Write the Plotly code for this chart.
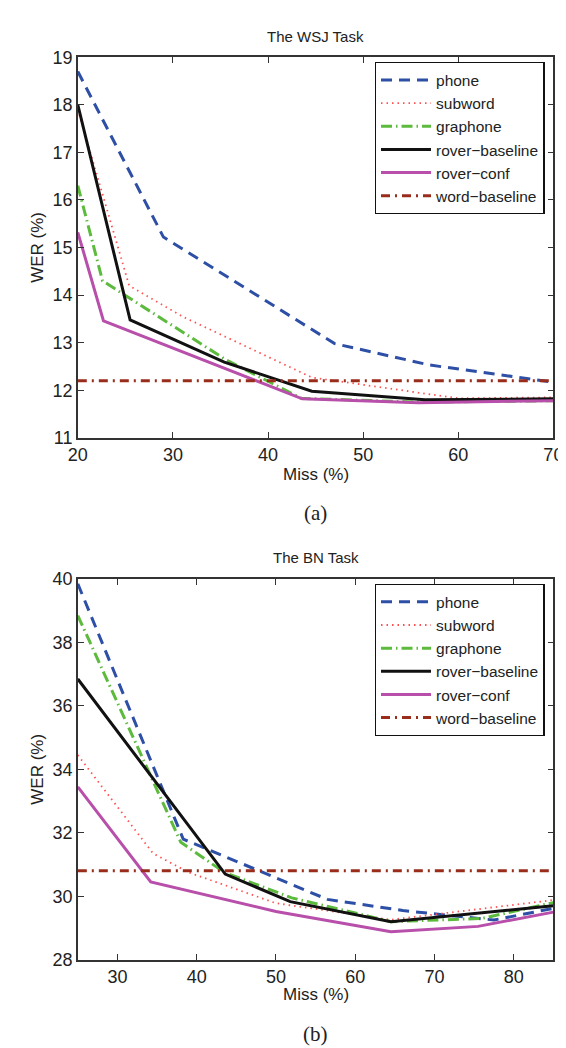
import plotly.graph_objects as go

W, H = 566, 1048
FONT = "Liberation Sans"

# ---------------- data: (a) WSJ task ----------------
wsj_phone_x = [20, 29.0, 47.0, 57.0, 70]
wsj_phone_y = [18.70, 15.22, 12.98, 12.53, 12.17]
wsj_subword_x = [20, 25.4, 31.0, 44.6, 60.0, 70]
wsj_subword_y = [17.90, 14.20, 13.55, 12.27, 11.83, 11.85]
wsj_graphone_x = [20, 22.6, 35.5, 43.5, 56.0, 70]
wsj_graphone_y = [16.30, 14.30, 12.65, 11.83, 11.75, 11.78]
wsj_roverbase_x = [20, 25.5, 35.4, 44.6, 56.5, 70]
wsj_roverbase_y = [18.00, 13.48, 12.59, 11.98, 11.80, 11.82]
wsj_roverconf_x = [20, 22.7, 43.6, 55.8, 70]
wsj_roverconf_y = [15.32, 13.46, 11.82, 11.74, 11.78]
wsj_word_x = [20, 70]
wsj_word_y = [12.20, 12.20]

# ---------------- data: (b) BN task ----------------
bn_phone_x = [25, 38.3, 56.5, 66.0, 77.5, 85]
bn_phone_y = [39.85, 31.80, 29.90, 29.55, 29.25, 29.62]
bn_subword_x = [25, 34.5, 39.0, 50.0, 64.5, 85]
bn_subword_y = [34.45, 31.35, 30.75, 29.78, 29.26, 29.88]
bn_graphone_x = [25, 38.0, 43.5, 52.0, 64.5, 76.0, 85]
bn_graphone_y = [38.85, 31.70, 30.75, 29.95, 29.20, 29.30, 29.80]
bn_roverbase_x = [25, 43.6, 51.8, 64.5, 85]
bn_roverbase_y = [36.85, 30.70, 29.83, 29.20, 29.70]
bn_roverconf_x = [25, 34.2, 50.0, 64.5, 75.5, 85]
bn_roverconf_y = [33.45, 30.45, 29.52, 28.88, 29.05, 29.50]
bn_word_x = [25, 85]
bn_word_y = [30.80, 30.80]

names = ["phone", "subword", "graphone", "rover\u2212baseline", "rover\u2212conf", "word\u2212baseline"]
styles = [
    dict(color="#2E4FA6", width=3, dash="11px,7px"),
    dict(color="#FF5050", width=1.8, dash="1.5px,4px"),
    dict(color="#5CBA3C", width=3, dash="11px,4px,1.5px,4px"),
    dict(color="#111111", width=3, dash="solid"),
    dict(color="#B84FAA", width=3, dash="solid"),
    dict(color="#9A2C1C", width=3, dash="9px,5px,2px,5px"),
]

wsj = [(wsj_phone_x, wsj_phone_y), (wsj_subword_x, wsj_subword_y),
       (wsj_graphone_x, wsj_graphone_y), (wsj_roverbase_x, wsj_roverbase_y),
       (wsj_roverconf_x, wsj_roverconf_y), (wsj_word_x, wsj_word_y)]
bn = [(bn_phone_x, bn_phone_y), (bn_subword_x, bn_subword_y),
      (bn_graphone_x, bn_graphone_y), (bn_roverbase_x, bn_roverbase_y),
      (bn_roverconf_x, bn_roverconf_y), (bn_word_x, bn_word_y)]

fig = go.Figure()
for (x, y), n, s in zip(wsj, names, styles):
    fig.add_trace(go.Scatter(x=x, y=y, mode="lines", name=n, line=s,
                             xaxis="x", yaxis="y", legend="legend"))
for (x, y), n, s in zip(bn, names, styles):
    fig.add_trace(go.Scatter(x=x, y=y, mode="lines", name=n, line=s,
                             xaxis="x2", yaxis="y2", legend="legend2"))


def px(v):
    return v / W


def py(v):
    return 1 - v / H


axis_common = dict(showline=True, linecolor="#333333", linewidth=1.5, mirror="ticks",
                   ticks="inside", ticklen=6, tickwidth=1.3, tickcolor="#333333",
                   showgrid=False, zeroline=False,
                   tickfont=dict(family=FONT, size=18, color="#222222"))

xdom = [px(62), px(555)]
leg_common = dict(xanchor="right", yanchor="top",
                  bordercolor="#111111", borderwidth=1.3, bgcolor="white",
                  font=dict(family=FONT, size=15.5, color="#222222"),
                  tracegroupgap=0, itemwidth=50)
fig.update_layout(
    width=W, height=H,
    margin=dict(l=0, r=0, t=0, b=0),
    plot_bgcolor="white", paper_bgcolor="white",
    font=dict(family=FONT, color="#222222"),
    xaxis=dict(domain=xdom, range=[20, 70], tickvals=[20, 30, 40, 50, 60, 70],
               anchor="y", **axis_common),
    yaxis=dict(domain=[py(428), py(40)], range=[11, 19], dtick=1,
               anchor="x", **axis_common),
    xaxis2=dict(domain=xdom, range=[25, 85], tickvals=[30, 40, 50, 60, 70, 80],
                anchor="y2", **axis_common),
    yaxis2=dict(domain=[py(960), py(572)], range=[28, 40], dtick=2,
                anchor="x2", **axis_common),
    legend=dict(x=px(546), y=py(45), **leg_common),
    legend2=dict(x=px(546), y=py(577), **leg_common),
    showlegend=True,
)

cx = (62 + 555) / 2 / W
ann = [
    ("The WSJ Task", cx, py(19), 15, FONT, 0),
    ("Miss (%)", cx, py(465), 17, FONT, 0),
    ("(a)", cx, py(505), 21, "Liberation Serif", 0),
    ("WER (%)", px(20), py(234), 17, FONT, -90),
    ("The BN Task", cx, py(550), 15, FONT, 0),
    ("Miss (%)", cx, py(996), 17, FONT, 0),
    ("(b)", cx, py(1036), 21, "Liberation Serif", 0),
    ("WER (%)", px(20), py(766), 17, FONT, -90),
]
for t, x, y, s, f, a in ann:
    fig.add_annotation(text=t, x=x, y=y, xref="paper", yref="paper",
                       xanchor="center", yanchor="middle", showarrow=False,
                       textangle=a, font=dict(family=f, size=s, color="#222222"))

fig.write_html("out.html")
